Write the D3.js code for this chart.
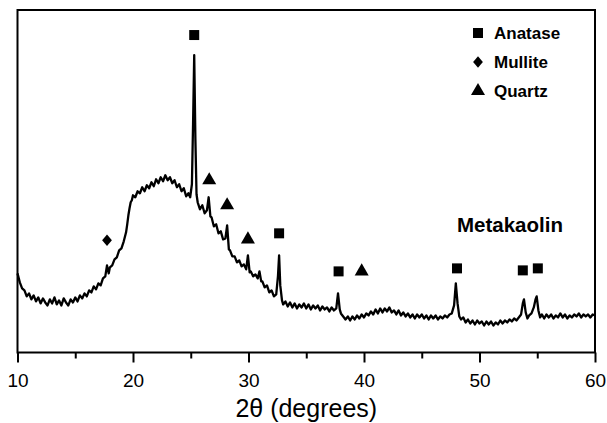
<!DOCTYPE html>
<html>
<head>
<meta charset="utf-8">
<script src="https://cdn.jsdelivr.net/npm/d3@7"></script>
<style>
  html, body { margin: 0; padding: 0; background: #fff; }
  svg { display: block; font-family: "Liberation Sans", Arial, sans-serif; }
</style>
</head>
<body>
<div id="chart"></div>
<script>
// XRD pattern of metakaolin.
// [2theta (deg), intensity (arb. units)]
var pattern = [
  [10.0,79],[10.2,70],[10.4,64],[10.6,62],[10.8,56],[11.0,59],[11.2,53],[11.4,57],[11.6,51],[11.8,55],
  [12.0,49],[12.2,54],[12.4,50],[12.6,47],[12.8,53],[13.0,49],[13.2,55],[13.4,48],[13.6,52],[13.8,47],
  [14.0,54],[14.2,50],[14.4,47],[14.6,53],[14.8,50],[15.0,55],[15.2,51],[15.4,57],[15.6,54],[15.8,59],
  [16.0,56],[16.2,62],[16.4,60],[16.6,66],[16.8,63],[17.0,69],[17.2,67],[17.4,74],[17.6,76],[17.75,87],
  [17.9,79],[18.0,85],[18.2,87],[18.4,93],[18.6,95],[18.8,102],[19.0,104],[19.2,111],[19.4,120],[19.5,128],
  [19.6,137],[19.7,144],[19.8,150],[19.9,152],[20.0,157],[20.2,155],[20.4,161],[20.6,159],[20.8,165],[21.0,161],
  [21.2,167],[21.4,164],[21.6,170],[21.8,166],[22.0,173],[22.2,169],[22.4,175],[22.6,171],[22.8,177],[23.0,172],
  [23.2,175],[23.4,169],[23.6,172],[23.8,165],[24.0,168],[24.2,161],[24.4,164],[24.6,156],[24.8,159],[24.95,155],
  [25.1,168],[25.2,228],[25.3,297],[25.4,214],[25.5,158],[25.6,150],[25.8,143],[26.0,147],[26.2,139],[26.4,142],
  [26.55,155],[26.7,136],[26.8,135],[27.0,126],[27.2,128],[27.4,119],[27.6,121],[27.8,113],[28.0,114],[28.15,127],
  [28.3,103],[28.4,102],[28.6,96],[28.8,96],[29.0,90],[29.2,92],[29.4,86],[29.6,88],[29.8,83],[29.95,97],
  [30.1,80],[30.2,81],[30.4,76],[30.6,78],[30.8,74],[30.95,81],[31.1,71],[31.2,71],[31.4,65],[31.6,67],
  [31.8,60],[32.0,62],[32.2,56],[32.4,58],[32.55,76],[32.65,97],[32.75,67],[32.9,52],[33.0,48],[33.2,51],
  [33.4,46],[33.6,50],[33.8,45],[34.0,49],[34.2,44],[34.4,48],[34.6,45],[34.8,49],[35.0,44],[35.2,48],
  [35.4,43],[35.6,47],[35.8,44],[36.0,47],[36.2,42],[36.4,46],[36.6,43],[36.8,45],[37.0,41],[37.2,45],
  [37.4,42],[37.6,44],[37.75,59],[37.9,43],[38.0,39],[38.2,36],[38.4,33],[38.6,36],[38.8,32],[39.0,36],
  [39.2,33],[39.4,37],[39.6,34],[39.8,38],[40.0,35],[40.2,39],[40.4,37],[40.6,41],[40.8,38],[41.0,43],
  [41.2,39],[41.4,44],[41.6,40],[41.8,44],[42.0,41],[42.2,45],[42.4,40],[42.6,42],[42.8,38],[43.0,42],
  [43.2,37],[43.4,40],[43.6,36],[43.8,39],[44.0,35],[44.2,38],[44.4,34],[44.6,38],[44.8,35],[45.0,38],
  [45.2,34],[45.4,37],[45.6,33],[45.8,37],[46.0,34],[46.2,37],[46.4,33],[46.6,36],[46.8,34],[47.0,37],
  [47.2,35],[47.4,38],[47.6,39],[47.8,47],[47.95,69],[48.1,49],[48.25,36],[48.4,33],[48.6,35],[48.8,30],
  [49.0,33],[49.2,29],[49.4,32],[49.6,28],[49.8,32],[50.0,29],[50.2,31],[50.4,27],[50.6,31],[50.8,28],
  [51.0,31],[51.2,27],[51.4,30],[51.6,28],[51.8,32],[52.0,29],[52.2,32],[52.4,30],[52.6,33],[52.8,31],
  [53.0,34],[53.2,32],[53.4,35],[53.6,38],[53.75,49],[53.85,53],[54.0,40],[54.15,34],[54.3,37],[54.5,39],
  [54.7,45],[54.85,53],[54.95,56],[55.1,42],[55.25,35],[55.4,38],[55.6,34],[55.8,38],[56.0,35],[56.2,38],
  [56.4,34],[56.6,37],[56.8,35],[57.0,39],[57.2,35],[57.4,38],[57.6,34],[57.8,37],[58.0,35],[58.2,38],
  [58.4,36],[58.6,39],[58.8,35],[59.0,38],[59.2,36],[59.4,38],[59.6,35],[59.8,38],[60.0,37]
];

// phase markers: [2theta, label height]
var anatasePeaks = [[25.3,317],[32.65,119],[37.8,81],[48.05,84],[53.75,82],[55.05,84]];
var mullitePeaks = [[17.75,112]];
var quartzPeaks  = [[26.6,172],[28.15,147],[29.95,113],[39.8,81]];

var legendItems = ['Anatase', 'Mullite', 'Quartz'];
var majorTicks = [10, 20, 30, 40, 50, 60];
var minorTicks = [15, 25, 35, 45, 55];

var W = 607, H = 423;
var LEFT = 17.5, RIGHT = 595, TOP = 10, BOTTOM = 352.5;

var svg = d3.select('#chart').append('svg')
  .attr('width', W)
  .attr('height', H);

var x = d3.scaleLinear().domain([10, 60]).range([LEFT, RIGHT]);
var y = d3.scaleLinear().domain([0, 342]).range([BOTTOM, TOP]);

// pattern line
var line = d3.line()
  .x(function(d) { return x(d[0]); })
  .y(function(d) { return y(d[1]); });

svg.append('path')
  .datum(pattern)
  .attr('d', line)
  .attr('fill', 'none')
  .attr('stroke', '#000')
  .attr('stroke-width', 2.3)
  .attr('stroke-linejoin', 'round');

// frame
svg.append('rect')
  .attr('x', LEFT)
  .attr('y', TOP)
  .attr('width', RIGHT - LEFT)
  .attr('height', BOTTOM - TOP)
  .attr('fill', 'none')
  .attr('stroke', '#000')
  .attr('stroke-width', 2);

// x axis: major ticks with labels, minor ticks without
var xAxis = svg.append('g')
  .attr('transform', 'translate(0,' + BOTTOM + ')')
  .call(d3.axisBottom(x).tickValues(majorTicks).tickSize(10).tickSizeOuter(0).tickPadding(11));
xAxis.select('.domain').remove();
xAxis.selectAll('line').attr('stroke-width', 2);
xAxis.selectAll('text')
  .attr('font-size', '19px')
  .attr('font-family', '"Liberation Sans", Arial, sans-serif')
  .attr('fill', '#000');

var xMinor = svg.append('g')
  .attr('transform', 'translate(0,' + BOTTOM + ')')
  .call(d3.axisBottom(x).tickValues(minorTicks).tickSize(6).tickSizeOuter(0).tickFormat(''));
xMinor.select('.domain').remove();
xMinor.selectAll('line').attr('stroke-width', 2);

svg.append('text')
  .attr('x', (LEFT + RIGHT) / 2)
  .attr('y', 417)
  .attr('text-anchor', 'middle')
  .attr('font-size', '25px')
  .attr('fill', '#000')
  .text('2\u03b8 (degrees)');

// markers
var sq = d3.symbol().type(d3.symbolSquare).size(100);
var dia = d3.symbol().type(d3.symbolDiamond2).size(72);
var tri = d3.symbol().type(d3.symbolTriangle).size(85);
var DIA_SCALE = ' scale(0.92,1.08)';

function drawMarkers(list, gen, extra) {
  svg.append('g').selectAll('path')
    .data(list)
    .enter().append('path')
    .attr('transform', function(d) {
      return 'translate(' + x(d[0]) + ',' + y(d[1]) + ')' + (extra || '');
    })
    .attr('d', gen)
    .attr('fill', '#000');
}
drawMarkers(anatasePeaks, sq);
drawMarkers(mullitePeaks, dia, DIA_SCALE);
drawMarkers(quartzPeaks, tri);

// legend
var legendGens = [sq, dia, tri];
var legendExtra = ['', DIA_SCALE, ''];
var legend = svg.append('g');
legendItems.forEach(function(name, i) {
  var ly = 33 + i * 29;
  legend.append('path')
    .attr('transform', 'translate(478,' + ly + ')' + legendExtra[i])
    .attr('d', legendGens[i])
    .attr('fill', '#000');
  legend.append('text')
    .attr('x', 494)
    .attr('y', ly + 6)
    .attr('font-size', '17px')
    .attr('font-weight', 'bold')
    .attr('fill', '#000')
    .text(name);
});

svg.append('text')
  .attr('x', 457)
  .attr('y', 232)
  .attr('font-size', '20.5px')
  .attr('font-weight', 'bold')
  .attr('fill', '#000')
  .text('Metakaolin');
</script>
</body>
</html>
